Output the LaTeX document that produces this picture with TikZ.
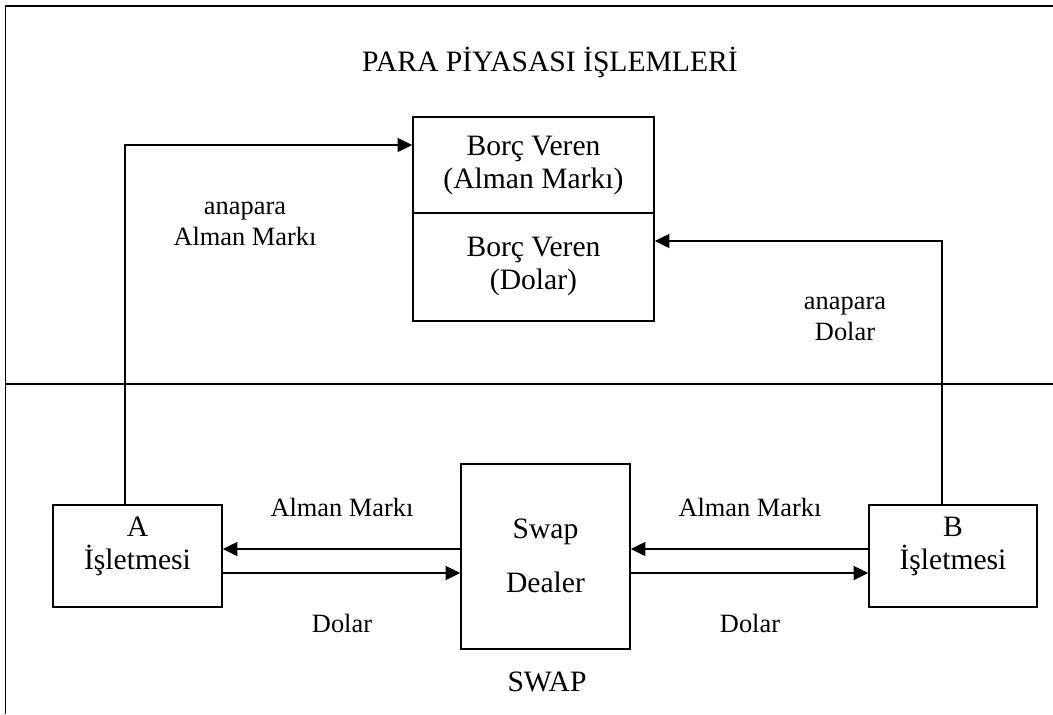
\documentclass[tikz,border=0pt]{standalone}
\usepackage{fontspec}
\setmainfont{Liberation Serif}
\usetikzlibrary{arrows.meta}
\begin{document}
\begin{tikzpicture}[x=0.75pt,y=-0.75pt,
  ln/.style={line width=1.2pt},
  boxnode/.style={draw,line width=1.2pt,inner sep=0pt,rectangle},
  arr/.style={ln,-{Triangle[length=11pt,width=10.5pt]}},
  txt/.style={font=\fontsize{19.8}{23}\selectfont,align=center,inner sep=0pt},
  bigtxt/.style={font=\fontsize{22.2}{24.75}\selectfont,align=center,inner sep=0pt}]
\useasboundingbox (0,0) rectangle (1053,714);
% frame
\coordinate (tl) at (5.5,6);
\coordinate (tr) at (1053,6);
\coordinate (bl) at (5.5,714);
\coordinate (ml) at (5.5,384);
\coordinate (mr) at (1053,384);
\draw[ln] (tr) -- (tl) -- (bl);
\draw[ln] (ml) -- (mr);
% boxes
\node[boxnode,minimum width=180.75pt,minimum height=72pt] (len1) at (533.5,165) {};
\node[boxnode,minimum width=180.75pt,minimum height=81pt] (len2) at (533.5,267) {};
\node[boxnode,minimum width=126.75pt,minimum height=76.5pt] (A) at (137.5,556) {};
\node[boxnode,minimum width=126.75pt,minimum height=138.75pt] (S) at (545.5,556.5) {};
\node[boxnode,minimum width=126pt,minimum height=76.5pt] (B) at (953,556) {};
% texts
\node[bigtxt] (title) at (550,62) {PARA PİYASASI İŞLEMLERİ};
\node[bigtxt] (t1) at (533.5,165) {Borç Veren\\(Alman Markı)};
\node[bigtxt] (t2) at (533.5,266) {Borç Veren\\(Dolar)};
\node[bigtxt] (ta) at (137.5,546.5) {A\\İşletmesi};
\node[bigtxt] (tb) at (953,546.5) {B\\İşletmesi};
\node[bigtxt] (ts1) at (545.5,532) {Swap};
\node[bigtxt] (ts2) at (545.5,582) {Dealer};
\node[bigtxt] (swap) at (547,682) {SWAP};
\node[txt] (am1) at (342,507) {Alman Markı};
\node[txt] (am2) at (750,507) {Alman Markı};
\node[txt] (d1) at (342,623) {Dolar};
\node[txt] (d2) at (750,623) {Dolar};
\node[txt] (ap1) at (245,224) {anapara\\Alman Markı};
\node[txt] (ap2) at (845,319) {anapara\\Dolar};
% connectors
\coordinate (ca) at (125,145);
\coordinate (cb) at (942,241);
\draw[arr] (A.north -| ca) -- (ca) -- (ca -| len1.west);
\draw[arr] (B.north -| cb) -- (cb) -- (cb -| len2.east);
\coordinate (yu) at (0,549);
\coordinate (yd) at (0,573);
\draw[arr] (S.west |- yu) -- (A.east |- yu);
\draw[arr] (A.east |- yd) -- (S.west |- yd);
\draw[arr] (B.west |- yu) -- (S.east |- yu);
\draw[arr] (S.east |- yd) -- (B.west |- yd);
\end{tikzpicture}
\end{document}
